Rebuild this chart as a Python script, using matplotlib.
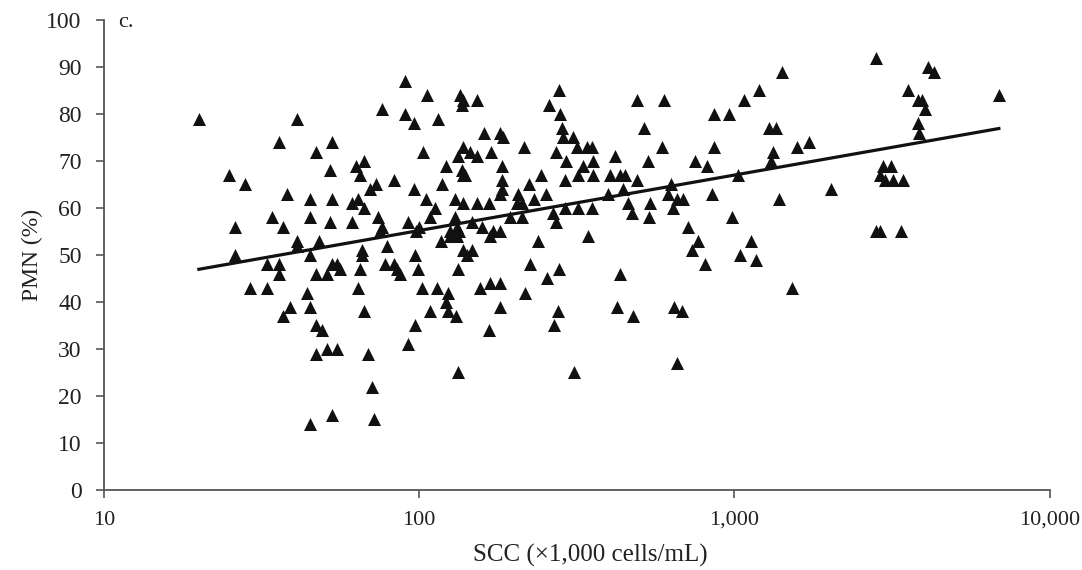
import matplotlib
matplotlib.use("Agg")
import matplotlib.pyplot as plt
import numpy as np

# ---- data ----
scc = [20, 41, 36, 53, 47, 52, 25, 28, 38, 45, 53, 34, 37, 26, 45, 52, 41, 41, 48, 26, 45,
       33, 36, 36, 47, 51, 53, 55, 56, 65,
       29, 33, 44, 39, 45, 37, 47, 49, 47, 51, 55, 45, 53,
       90, 106, 135, 138, 137, 153, 76, 90, 96, 115, 161, 181, 185, 215, 278, 259, 280, 284, 286,
       272, 292, 103, 138, 145, 153, 133, 169, 63, 67, 65, 122, 137, 138, 140, 183, 244, 83, 73,
       70, 118, 183, 183, 181, 223, 290, 96, 61, 64, 67, 105, 112, 130, 138, 152, 166, 206, 205,
       212, 232, 253, 61, 74, 76, 75, 92, 100, 98, 108, 130, 132, 125, 134, 147, 158, 172, 181,
       168, 194, 212, 266, 272, 117, 125, 132, 239, 66, 66, 79, 97, 138, 142, 147,
       78, 83, 85, 87, 99, 133, 225, 278, 64, 102, 114, 123, 122, 123, 131, 156, 168, 181, 217,
       255, 181, 276, 268, 67, 108, 97, 166, 92, 69, 133, 71, 72, 310,
       308, 317, 341, 354, 332, 357, 320, 357, 419, 404, 435, 451, 492, 492, 600, 518, 591, 530,
       398, 444, 461, 474, 541, 537, 627, 617, 659, 689, 640, 290, 320, 354, 344, 752, 821, 864,
       964, 864, 851, 1030, 1069, 1200, 1420, 1291, 1359, 1321, 1302, 1585, 1380, 986, 714, 769,
       735, 1125, 1038, 1167, 809, 435,
       1527, 425, 477, 645, 684, 659,
       2805, 4100, 4290, 3565, 3810, 3950, 4010, 3810, 3850, 6890, 1730, 2031, 2950, 3130, 2905,
       3010, 3180, 3415, 2805, 2905, 3365]
pmn = [79, 79, 74, 74, 72, 68, 67, 65, 63, 62, 62, 58, 56, 56, 58, 57, 53, 52, 53, 50, 50,
       48, 48, 46, 46, 46, 48, 48, 47, 47,
       43, 43, 42, 39, 39, 37, 35, 34, 29, 30, 30, 14, 16,
       87, 84, 84, 83, 82, 83, 81, 80, 78, 79, 76, 76, 75, 73, 85, 82, 80, 77, 75,
       72, 70, 72, 73, 72, 71, 71, 72, 69, 70, 67, 69, 68, 67, 67, 69, 67, 66, 65,
       64, 65, 66, 64, 63, 65, 66, 64, 61, 62, 60, 62, 60, 62, 61, 61, 61, 63, 61,
       61, 62, 63, 57, 58, 56, 55, 57, 56, 55, 58, 58, 56, 55, 55, 57, 56, 55, 55,
       54, 58, 58, 59, 57, 53, 54, 54, 53, 51, 50, 52, 50, 51, 50, 51,
       48, 48, 47, 46, 47, 47, 48, 47, 43, 43, 43, 42, 40, 38, 37, 43, 44, 44, 42,
       45, 39, 38, 35, 38, 38, 35, 34, 31, 29, 25, 22, 15, 25,
       75, 73, 73, 73, 69, 70, 67, 67, 71, 67, 67, 67, 66, 83, 83, 77, 73, 70,
       63, 64, 61, 59, 61, 58, 65, 63, 62, 62, 60, 60, 60, 60, 54, 70, 69, 80,
       80, 73, 63, 67, 83, 85, 89, 77, 77, 72, 70, 73, 62, 58, 56, 53,
       51, 53, 50, 49, 48, 46,
       43, 39, 37, 39, 38, 27,
       92, 90, 89, 85, 83, 83, 81, 78, 76, 84, 74, 64, 69, 69, 67,
       66, 66, 66, 55, 55, 55]

fit_intercept = 31.6      # PMN = a + b * log10(SCC)
fit_slope = 11.8
fit_range = [20, 6900]

xtick_vals = [10, 100, 1000, 10000]
xtick_labels = ["10", "100", "1,000", "10,000"]
ytick_vals = list(range(0, 101, 10))

# ---- figure ----
plt.rcParams['font.family'] = ['Liberation Serif', 'DejaVu Serif']
fig = plt.figure(figsize=(10.82, 5.70), dpi=100)
ax = fig.add_axes([0.0961, 0.1404, 0.874, 0.8246])

ax.scatter(scc, pmn, marker='^', s=88, color='#111111', linewidths=0, zorder=3)

fx = np.array(fit_range, dtype=float)
fy = fit_intercept + fit_slope * np.log10(fx)
ax.plot(fx, fy, color='#111111', linewidth=2.3, zorder=4)

ax.set_xscale('log')
ax.set_xlim(10, 10000)
ax.set_ylim(0, 100)
ax.set_xticks(xtick_vals)
ax.set_xticklabels(xtick_labels)
ax.xaxis.set_minor_locator(matplotlib.ticker.NullLocator())
ax.set_yticks(ytick_vals)

for s in ['top', 'right']:
    ax.spines[s].set_visible(False)
for s in ['left', 'bottom']:
    ax.spines[s].set_color('#555555')
    ax.spines[s].set_linewidth(1.3)

ax.tick_params(axis='both', direction='out', length=6, width=1.2, color='#555555',
               labelcolor='#222222')
ax.tick_params(axis='x', pad=9, labelsize=16)
ax.tick_params(axis='y', pad=10, labelsize=17)

ax.set_xlabel("SCC (\u00d71,000 cells/mL)", fontsize=18, color='#222222')
ax.xaxis.set_label_coords(0.514, -0.114)
ax.set_ylabel("PMN (%)", fontsize=17, color='#222222')
ax.yaxis.set_label_coords(-0.064, 0.5)
ax.text(0.015, 0.995, "c.", transform=ax.transAxes, fontsize=16, color='#222222',
        va='center', ha='left')

fig.savefig("out.png", dpi=100, facecolor='white')
